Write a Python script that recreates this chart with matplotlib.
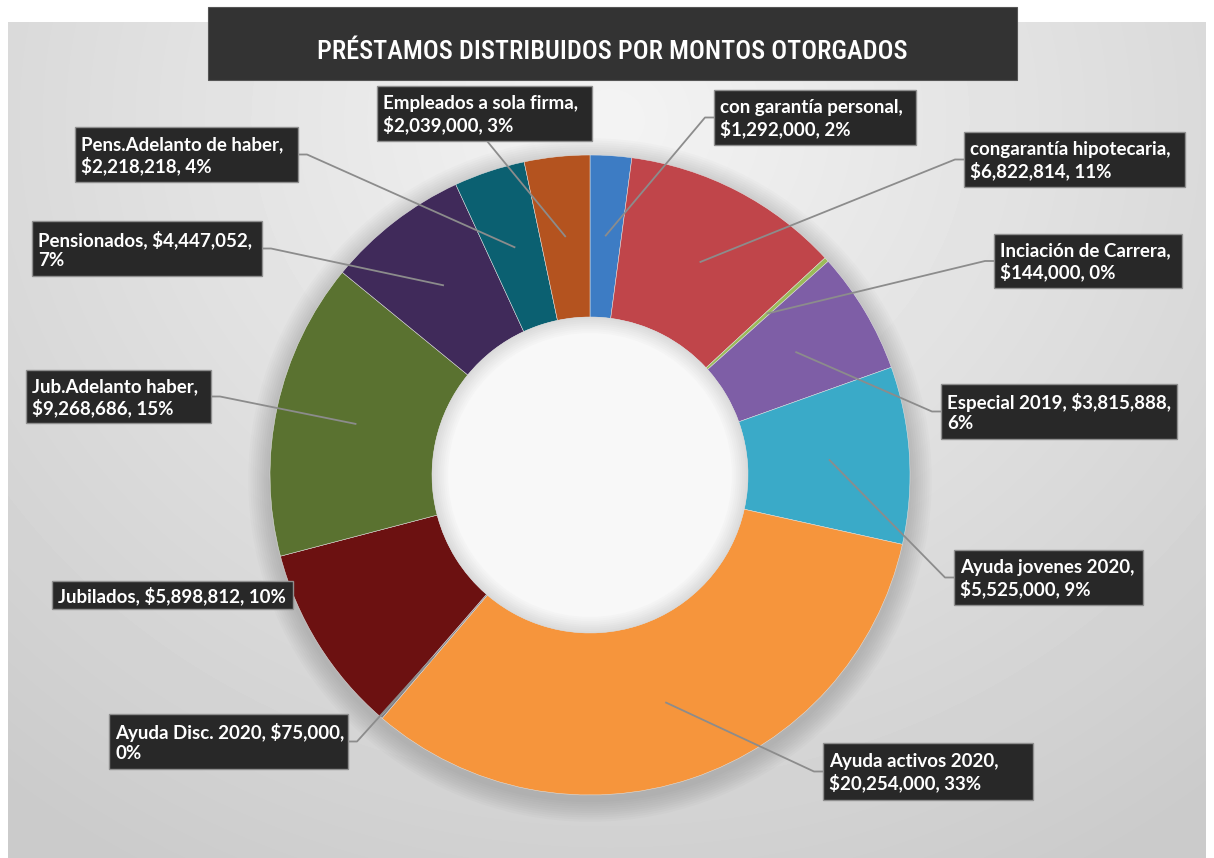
import matplotlib
matplotlib.use('Agg')
import matplotlib.pyplot as plt
import numpy as np
from matplotlib.patches import Rectangle, Circle
from matplotlib import font_manager
from matplotlib.font_manager import FontProperties

# datos del grafico
categorias = ['con garantía personal', 'congarantía hipotecaria', 'Inciación de Carrera',
              'Especial 2019', 'Ayuda jovenes 2020', 'Ayuda activos 2020', 'Ayuda Disc. 2020',
              'Jubilados', 'Jub.Adelanto haber', 'Pensionados', 'Pens.Adelanto de haber',
              'Empleados a sola firma']
montos = [1292000, 6822814, 144000, 3815888, 5525000, 20254000, 75000,
          5898812, 9268686, 4447052, 2218218, 2039000]
colores = ['#3d7cc4', '#c0454a', '#9bbb59', '#7e5ea6', '#3aaac8', '#f6953c', '#7f7f86',
           '#6c1111', '#5a7230', '#402a5a', '#0b6071', '#b4531f']
# 0 = salto despues del nombre, 1 = salto antes del porcentaje, 2 = una sola linea
salto = [0, 0, 0, 1, 0, 0, 1, 2, 0, 1, 0, 0]
titulo = 'PRÉSTAMOS DISTRIBUIDOS POR MONTOS OTORGADOS'

W, H = 1214, 858
CX, CY, R, R_IN = 590, 475, 320, 158

# cajas de etiquetas (x0, y0, x1, y1) en pixeles y lado donde llega la linea guia
cajas = [(714, 90, 916, 145), (964, 132, 1185, 187), (994, 234, 1182, 288),
         (941, 384, 1177, 439), (954, 550, 1143, 605), (823, 743, 1033, 800),
         (109, 714, 348, 769), (52, 581, 293, 609), (26, 370, 211, 423),
         (32, 221, 262, 276), (75, 127, 298, 182), (377, 86, 592, 141)]
lados = ['l', 'l', 'l', 'l', 'l', 'l', 'r', None, 'r', 'r', 'r', 'b']

# fuente condensada para el titulo, si hay alguna instalada
disponibles = {f.name for f in font_manager.fontManager.ttflist}
prop_titulo = None
for nombre in ['Roboto Condensed', 'Liberation Sans Narrow', 'Open Sans Condensed']:
    if nombre in disponibles:
        prop_titulo = FontProperties(family=nombre, weight='medium', size=19)
        break
if prop_titulo is None:
    condensadas = [f for f in font_manager.fontManager.ttflist
                   if isinstance(f.stretch, str) and 'condensed' in f.stretch]
    if condensadas:
        prop_titulo = FontProperties(fname=condensadas[0].fname, size=19)
    else:
        prop_titulo = FontProperties(family='Roboto', weight='medium', size=17)

fig = plt.figure(figsize=(W / 100, H / 100), dpi=100)
fig.patch.set_facecolor('white')
ax = fig.add_axes([0, 0, 1, 1])

# fondo degradado
yy, xx = np.mgrid[0:H, 0:W]
d = np.hypot(xx - 610, (yy - 120) * 1.1)
fondo = 0.955 - 0.16 * np.clip(d / 950, 0, 1)
ax.imshow(fondo[22:H, 8:1206], cmap='gray', vmin=0, vmax=1,
          extent=(8, 1206, H, 22), zorder=0, interpolation='bilinear')

# sombra suave del anillo
for k in range(10):
    ax.add_patch(Circle((CX, CY + 5), R + 2 + k * 2.2, fc='black', alpha=0.014, lw=0, zorder=0.5))

total = sum(montos)
wedges, _ = ax.pie(montos, colors=colores, radius=R, center=(CX, CY), startangle=270,
                   counterclock=True,
                   wedgeprops=dict(width=R - R_IN, edgecolor='#e4e4e4', linewidth=0.35))
for w in wedges:
    w.set_zorder(2)

# hueco central con sombra interior
for i, r in enumerate(np.linspace(R_IN, R_IN - 16, 9)):
    g = 0.86 + i * 0.014
    ax.add_patch(Circle((CX, CY), r, fc=(g, g, g), lw=0, zorder=3))

# etiquetas y lineas guia
for i, w in enumerate(wedges):
    pct = round(montos[i] / total * 100)
    monto = f'${montos[i]:,}'
    if salto[i] == 0:
        txt = f'{categorias[i]},\n{monto}, {pct}%'
    elif salto[i] == 1:
        txt = f'{categorias[i]}, {monto},\n{pct}%'
    else:
        txt = f'{categorias[i]}, {monto}, {pct}%'

    ang = np.deg2rad((w.theta1 + w.theta2) / 2)
    px, py = CX + 240 * np.cos(ang), CY + 240 * np.sin(ang)
    x0, y0, x1, y1 = cajas[i]
    ym = (y0 + y1) / 2
    if lados[i] == 'l':
        ax.plot([px, x0 - 9, x0], [py, ym, ym], color='#8c8c8c', lw=1.3, zorder=4)
    elif lados[i] == 'r':
        ax.plot([px, x1 + 9, x1], [py, ym, ym], color='#8c8c8c', lw=1.3, zorder=4)
    elif lados[i] == 'b':
        ax.plot([px, x0 + 110], [py, y1], color='#8c8c8c', lw=1.3, zorder=4)

    ax.add_patch(Rectangle((x0, y0), x1 - x0, y1 - y0, fc='#282828', ec='#8f8f8f',
                           lw=1, zorder=5))
    ax.text(x0 + 6, ym + 1, txt, ha='left', va='center', color='white', fontsize=13.5,
            fontweight='bold', family='Lato', linespacing=1.22, zorder=6)

# titulo
ax.add_patch(Rectangle((208, 7), 809, 73, fc='#333333', ec='#555555', lw=0.8, zorder=5))
ax.text(612, 59, titulo, ha='center', va='baseline', color='white',
        fontproperties=prop_titulo, zorder=6)

ax.set_xlim(0, W)
ax.set_ylim(H, 0)
ax.set_aspect('equal')
ax.axis('off')

plt.savefig('out.png', dpi=100)
plt.close()
